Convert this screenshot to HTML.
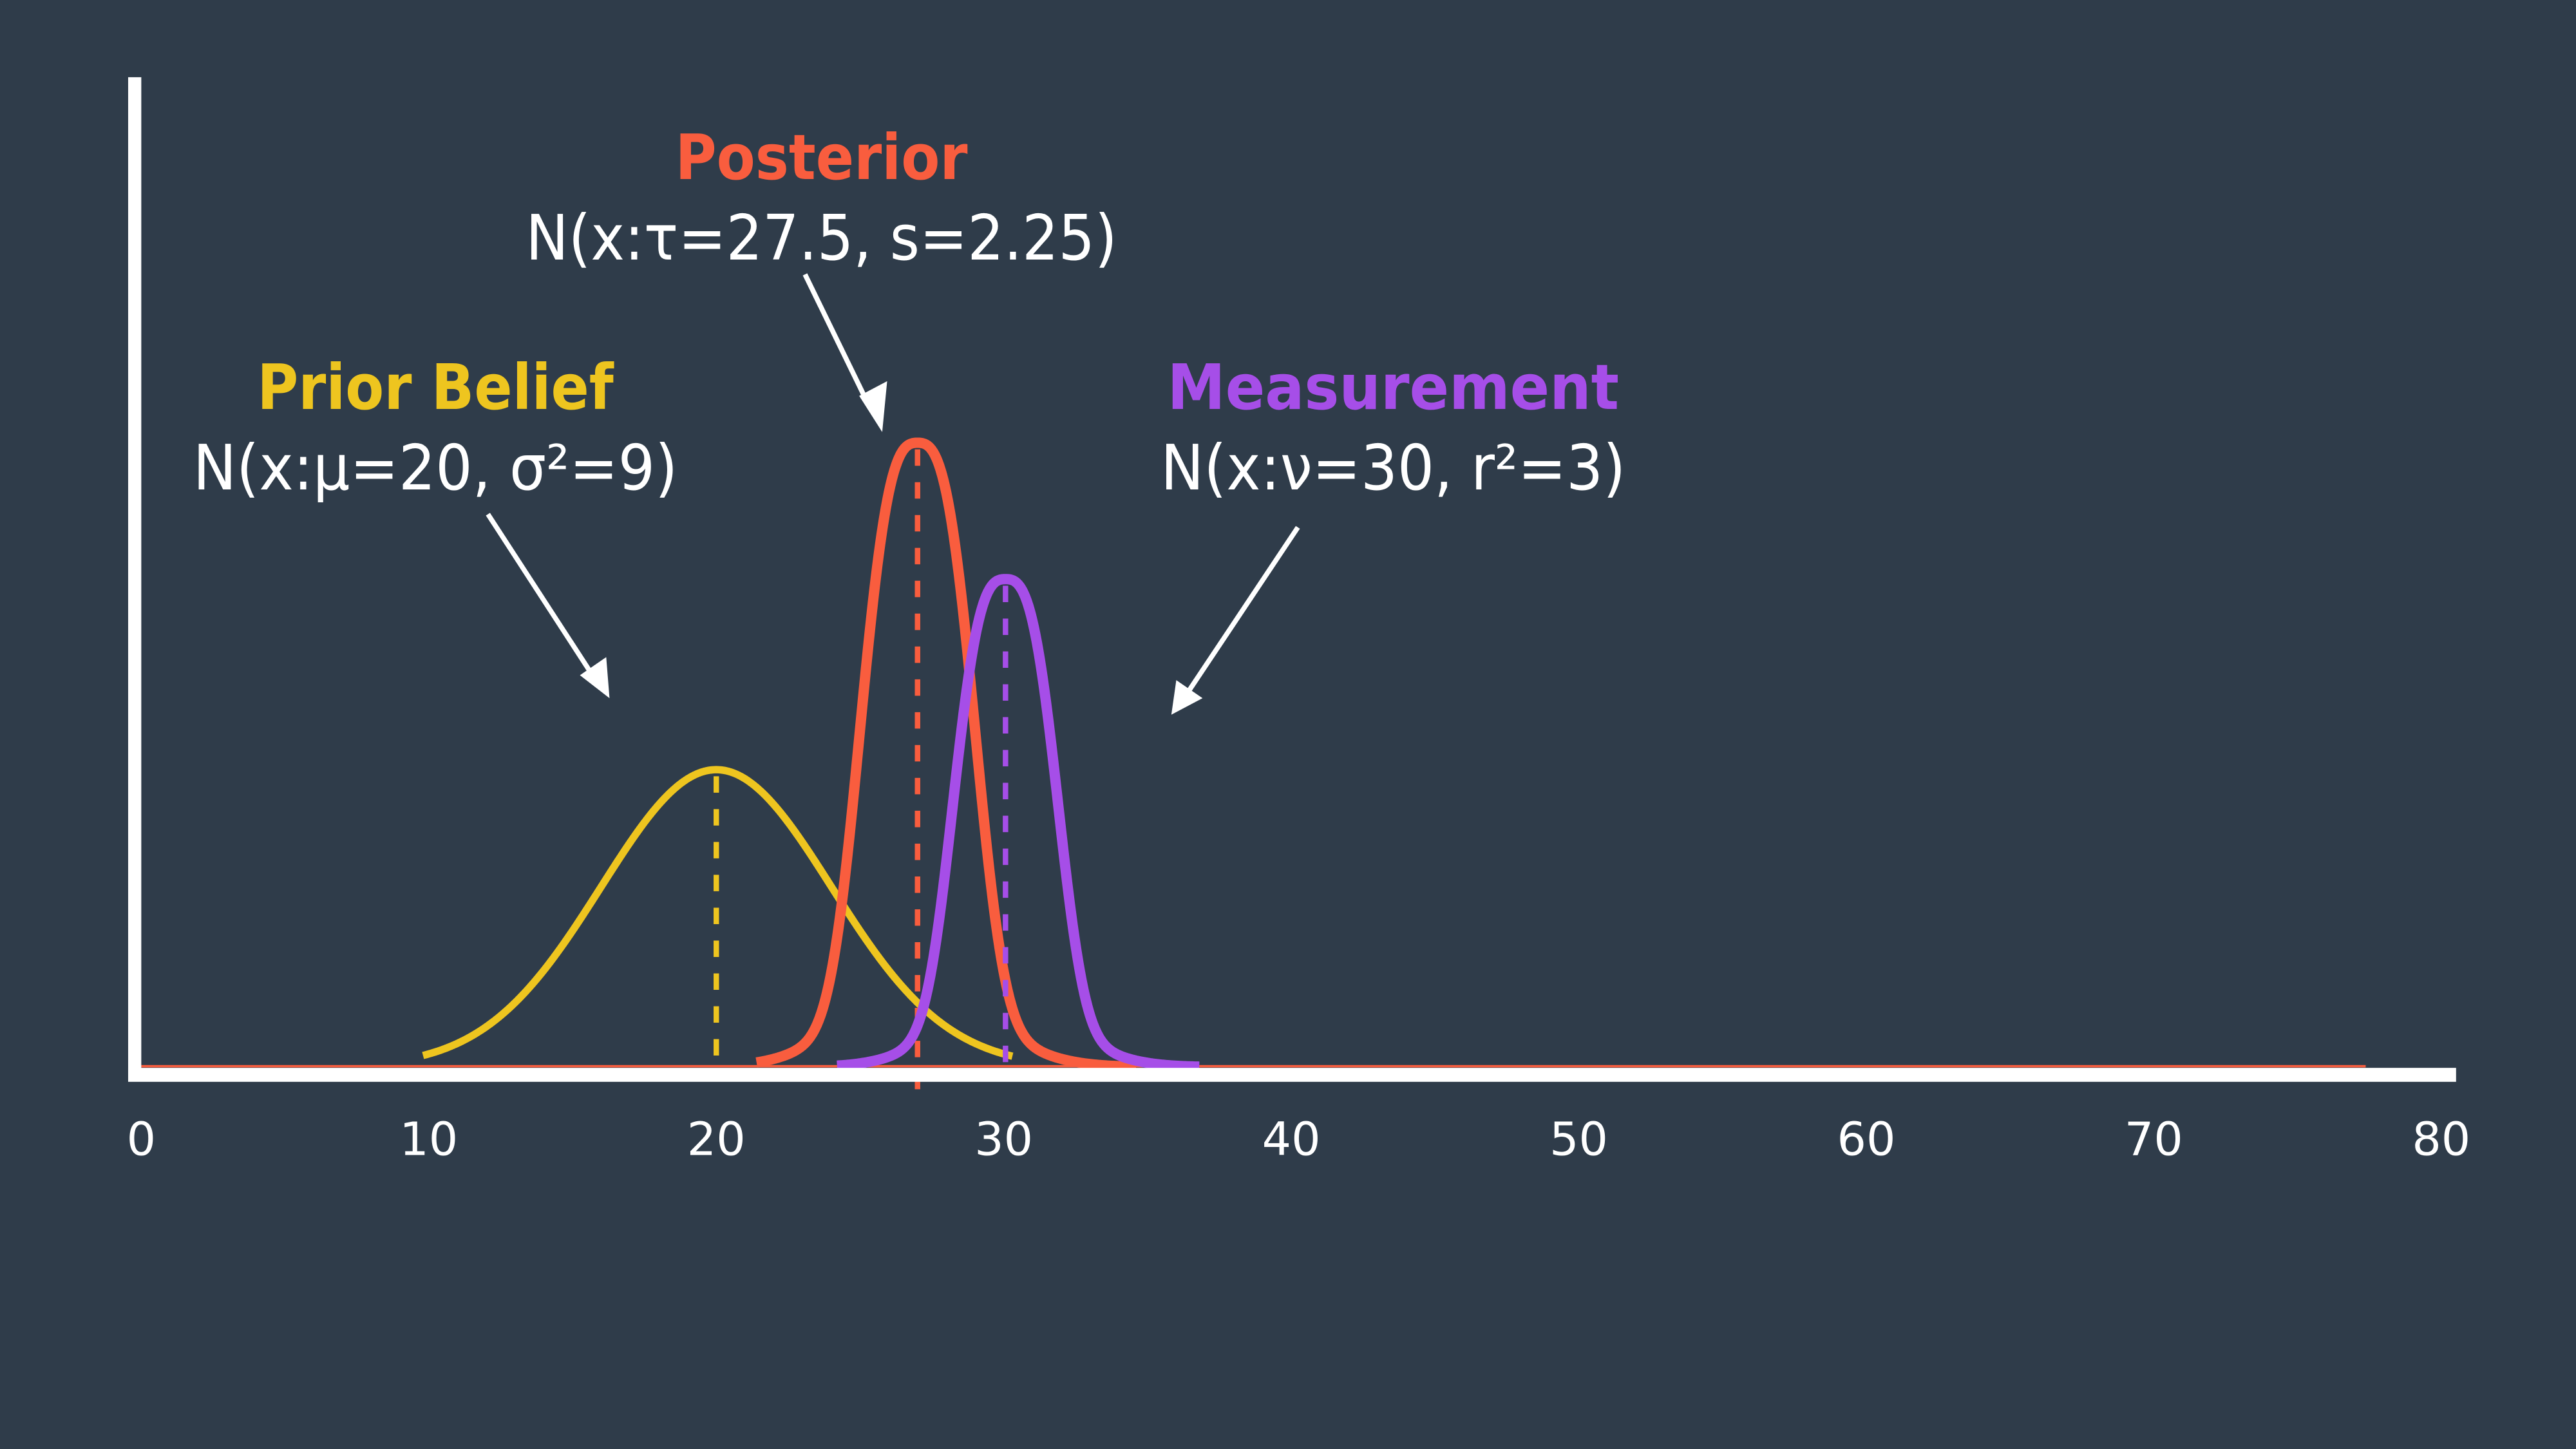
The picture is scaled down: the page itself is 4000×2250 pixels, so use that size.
<!DOCTYPE html>
<html><head><meta charset="utf-8"><style>
html,body{margin:0;padding:0;background:#2f3c4a;}
svg{display:block;}
text{font-family:"DejaVu Sans","Liberation Sans",sans-serif;}
</style></head><body>
<svg id="s" width="4000" height="2250" viewBox="0 0 1568 882" xmlns="http://www.w3.org/2000/svg">
<rect width="1568" height="882" fill="#2f3c4a"/>
<line x1="86" y1="649" x2="1440" y2="649" stroke="#f95d3e" stroke-width="1.5"/>
<g id="curves"></g>
<rect x="78" y="650" width="1417" height="8.5" fill="#fff"/>
<rect x="78" y="47" width="8" height="611" fill="#fff"/>
<g fill="#fff" font-size="28" text-anchor="middle">
<text x="86" y="703">0</text><text x="261" y="703">10</text><text x="436" y="703">20</text>
<text x="611" y="703">30</text><text x="786" y="703">40</text><text x="961" y="703">50</text>
<text x="1136" y="703">60</text><text x="1311" y="703">70</text><text x="1486" y="703">80</text>
</g>
<g font-size="38" text-anchor="middle">
<text x="500" y="109" fill="#f95d3e" font-weight="bold" textLength="178" lengthAdjust="spacingAndGlyphs">Posterior</text>
<text x="500" y="158" fill="#fff" textLength="360" lengthAdjust="spacingAndGlyphs">N(x:τ=27.5, s=2.25)</text>
<text x="265" y="249" fill="#eec51f" font-weight="bold" textLength="217" lengthAdjust="spacingAndGlyphs">Prior Belief</text>
<text x="265" y="298" fill="#fff" textLength="295" lengthAdjust="spacingAndGlyphs">N(x:μ=20, σ²=9)</text>
<text x="848" y="249" fill="#a64ee8" font-weight="bold" textLength="275" lengthAdjust="spacingAndGlyphs">Measurement</text>
<text x="848" y="298" fill="#fff" textLength="283" lengthAdjust="spacingAndGlyphs">N(x:ν=30, r²=3)</text>
</g>
<g stroke="#fff" stroke-width="3" fill="#fff">
<line x1="490" y1="167" x2="528" y2="245"/>
<polygon points="537,263 523,241 540,232" stroke="none"/>
<line x1="297" y1="313" x2="360" y2="410"/>
<polygon points="371,425 353,411 369,400" stroke="none"/>
<line x1="790" y1="321" x2="724" y2="420"/>
<polygon points="713,435 716,414 732,425" stroke="none"/>
</g>
</svg>
<script>
(function(){
var g=document.getElementById('curves');var NS='http://www.w3.org/2000/svg';
function X(v){return 86+17.5*v;}
var base=649.5;
// [center, a, H, color, width, from, to, power, w, b]
var cs=[[20,5.66,181,'#eec51f',4.5,9.8,30.3,2,1,1],[27.0,2.3,380,'#f95d3e',6.3,21.4,34.6,3,0.87,3.3],[30.06,2.1,297,'#a64ee8',6.3,24.2,36.8,3,0.87,3.0]];
cs.forEach(function(c){
 var d='';for(var v=c[5];v<=c[6]+1e-9;v+=0.05){var x=v-c[0];var f=c[8]*Math.exp(-Math.pow(Math.abs(x)/c[1],c[7]))+(1-c[8])*Math.exp(-Math.pow(x/c[9],2));var y=base-c[2]*f;d+=(d?'L':'M')+X(v).toFixed(2)+' '+y.toFixed(2);}
 var p=document.createElementNS(NS,'path');p.setAttribute('d',d);p.setAttribute('fill','none');p.setAttribute('stroke',c[3]);p.setAttribute('stroke-width',c[4]);p.setAttribute('stroke-linejoin','round');g.appendChild(p);
 var l=document.createElementNS(NS,'line');l.setAttribute('x1',X(c[0]));l.setAttribute('x2',X(c[0]));l.setAttribute('y1',base-c[2]+4);l.setAttribute('y2',c[3]=='#f95d3e'?663:652);l.setAttribute('stroke',c[3]);l.setAttribute('stroke-width',3.3);l.setAttribute('stroke-dasharray','10 10');g.appendChild(l);
});
})();
</script>
</body></html>
